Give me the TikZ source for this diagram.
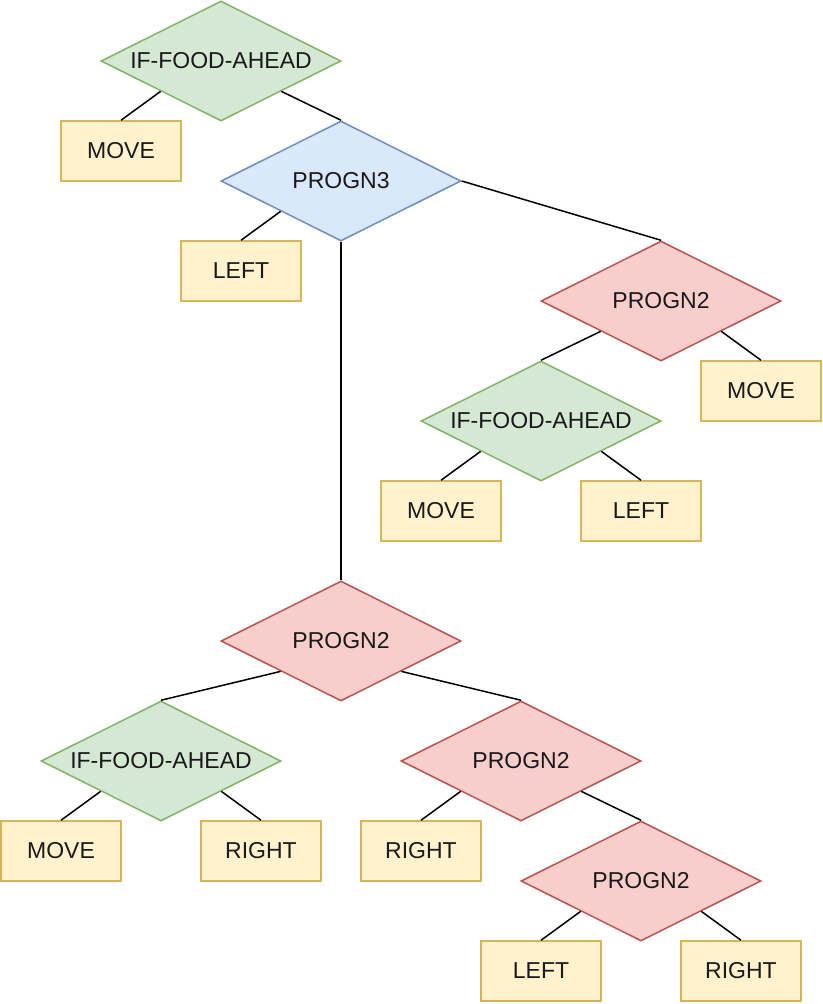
\documentclass[tikz,border=0pt]{standalone}
\usepackage{fontspec}
\setmainfont{Liberation Sans}
\usetikzlibrary{shapes.geometric,calc}
\definecolor{gfill}{HTML}{D5E8D4}\definecolor{gdraw}{HTML}{82B366}
\definecolor{bfill}{HTML}{DAE8FC}\definecolor{bdraw}{HTML}{6C8EBF}
\definecolor{rfill}{HTML}{F8CECC}\definecolor{rdraw}{HTML}{B85450}
\definecolor{yfill}{HTML}{FFF2CC}\definecolor{ydraw}{HTML}{D6B656}
\tikzset{
  dia/.style={diamond, minimum width=240pt, minimum height=120pt, inner sep=0pt, line width=1.5pt, font=\fontsize{23}{26}\selectfont, text=black!90},
  gdia/.style={dia, fill=gfill, draw=gdraw},
  bdia/.style={dia, fill=bfill, draw=bdraw},
  rdia/.style={dia, fill=rfill, draw=rdraw},
  leaf/.style={rectangle, minimum width=120pt, minimum height=60pt, inner sep=0pt, fill=yfill, draw=ydraw, line width=1.5pt, font=\fontsize{23}{26}\selectfont, text=black!90},
  edge/.style={line width=1.5pt, black}
}
\newcommand{\ZW}[1]{\makebox[0pt]{#1}}
\newcommand{\LL}[1]{($(#1.south)!0.5!(#1.west)$)}
\newcommand{\LR}[1]{($(#1.south)!0.5!(#1.east)$)}
\begin{document}
\begin{tikzpicture}[x=1pt,y=-1pt]
\useasboundingbox (0,0) rectangle (822,1004);
\node[gdia] (if1) at (221,61) {\ZW{IF-FOOD-AHEAD}};
\node[bdia] (p3) at (341,181) {\ZW{PROGN3}};
\node[rdia] (p2a) at (661,301) {\ZW{PROGN2}};
\node[gdia] (if2) at (541,421) {\ZW{IF-FOOD-AHEAD}};
\node[rdia] (p2b) at (341,641) {\ZW{PROGN2}};
\node[gdia] (if3) at (161,761) {\ZW{IF-FOOD-AHEAD}};
\node[rdia] (p2c) at (521,761) {\ZW{PROGN2}};
\node[rdia] (p2d) at (641,881) {\ZW{PROGN2}};
\node[leaf] (m1) at (121,151) {MOVE};
\node[leaf] (l1) at (241,271) {LEFT};
\node[leaf] (m2) at (761,391) {MOVE};
\node[leaf] (m3) at (441,511) {MOVE};
\node[leaf] (l2) at (641,511) {LEFT};
\node[leaf] (m4) at (61,851) {MOVE};
\node[leaf] (r1) at (261,851) {RIGHT};
\node[leaf] (r2) at (421,851) {RIGHT};
\node[leaf] (l3) at (541,971) {LEFT};
\node[leaf] (r3) at (741,971) {RIGHT};
\draw[edge] \LL{if1} -- (m1.north);
\draw[edge] \LR{if1} -- (p3.north);
\draw[edge] \LL{p3} -- (l1.north);
\draw[edge] (p3.east) -- (p2a.north);
\draw[edge] (p3.south) -- (p2b.north);
\draw[edge] \LL{p2a} -- (if2.north);
\draw[edge] \LR{p2a} -- (m2.north);
\draw[edge] \LL{if2} -- (m3.north);
\draw[edge] \LR{if2} -- (l2.north);
\draw[edge] \LL{p2b} -- (if3.north);
\draw[edge] \LR{p2b} -- (p2c.north);
\draw[edge] \LL{if3} -- (m4.north);
\draw[edge] \LR{if3} -- (r1.north);
\draw[edge] \LL{p2c} -- (r2.north);
\draw[edge] \LR{p2c} -- (p2d.north);
\draw[edge] \LL{p2d} -- (l3.north);
\draw[edge] \LR{p2d} -- (r3.north);
\end{tikzpicture}
\end{document}
